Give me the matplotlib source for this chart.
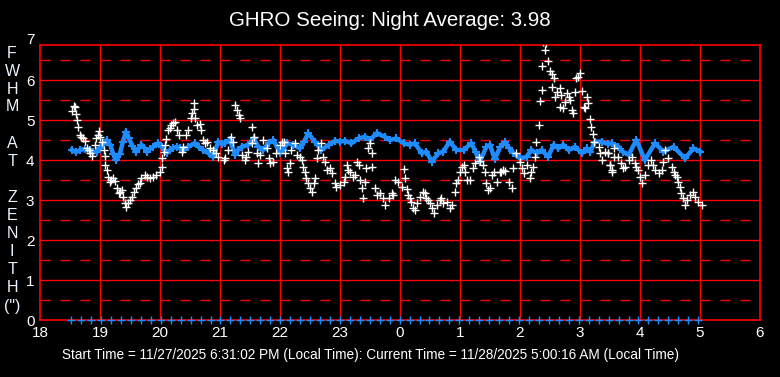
import numpy as np
import matplotlib
matplotlib.use("Agg")
import matplotlib.pyplot as plt

plt.rcParams['font.family'] = ['Liberation Sans', 'DejaVu Sans']
plt.rcParams['lines.scale_dashes'] = False

title = "GHRO Seeing: Night Average: 3.98"
footer = ("Start Time = 11/27/2025 6:31:02 PM (Local Time): "
          "Current Time = 11/28/2025 5:00:16 AM (Local Time)")
ylabel_letters = ["F", "W", "H", "M", "A", "T", "Z", "E", "N", "I", "T", "H", '(")']
ylabel_pos = [53, 72, 90, 107, 144, 161, 197, 215, 233, 251, 269, 287, 306]

x_ticks = list(range(18, 31))
x_tick_labels = ["18", "19", "20", "21", "22", "23", "0", "1", "2", "3", "4", "5", "6"]
y_ticks = [0, 1, 2, 3, 4, 5, 6]

# averaged seeing (blue)
avg_t = [18.53, 18.6, 18.67, 18.75, 18.83, 18.89, 18.95, 19.0, 19.06, 19.11, 19.17, 19.22,
         19.27, 19.33, 19.38, 19.43, 19.48, 19.54, 19.6, 19.65, 19.69, 19.74, 19.78, 19.83,
         19.89, 19.97, 20.03, 20.11, 20.17, 20.22, 20.28, 20.33, 20.39, 20.47, 20.58, 20.65,
         20.72, 20.81, 20.89, 20.97, 21.03, 21.08, 21.17, 21.25, 21.3, 21.36, 21.47, 21.56,
         21.64, 21.72, 21.81, 21.89, 22.0, 22.05, 22.11, 22.22, 22.33, 22.4, 22.47, 22.58,
         22.69, 22.81, 22.92, 23.0, 23.08, 23.19, 23.31, 23.42, 23.5, 23.61, 23.75, 23.83,
         23.94, 24.06, 24.17, 24.25, 24.36, 24.44, 24.53, 24.64, 24.72, 24.83, 24.94, 25.06,
         25.19, 25.26, 25.33, 25.44, 25.5, 25.58, 25.67, 25.75, 25.82, 25.89, 26.0, 26.11,
         26.19, 26.28, 26.36, 26.47, 26.56, 26.64, 26.72, 26.81, 26.92, 27.03, 27.11, 27.17,
         27.25, 27.36, 27.47, 27.53, 27.64, 27.72, 27.81, 27.94, 28.08, 28.25, 28.39, 28.56,
         28.75, 28.89, 29.0]
avg_v = [4.25, 4.2, 4.25, 4.28, 4.24, 4.2, 4.2, 4.3, 4.4, 4.5, 4.38, 4.15,
         4.0, 4.15, 4.45, 4.7, 4.55, 4.35, 4.2, 4.3, 4.38, 4.3, 4.2, 4.28,
         4.33, 4.42, 4.33, 4.17, 4.25, 4.3, 4.33, 4.3, 4.25, 4.33, 4.42, 4.32,
         4.25, 4.17, 4.08, 4.46, 4.4, 4.42, 4.5, 4.13, 4.25, 4.33, 4.38, 4.54,
         4.33, 4.25, 4.42, 4.5, 4.17, 4.25, 4.42, 4.38, 4.29, 4.45, 4.67, 4.46,
         4.25, 4.38, 4.48, 4.46, 4.48, 4.42, 4.54, 4.58, 4.5, 4.67, 4.58, 4.5,
         4.54, 4.42, 4.38, 4.42, 4.17, 4.21, 3.96, 4.17, 4.21, 4.46, 4.25, 4.25,
         4.42, 4.2, 3.96, 4.33, 4.38, 4.02, 4.33, 4.44, 4.3, 4.17, 4.04, 4.08,
         4.25, 4.17, 4.25, 4.08, 4.38, 4.29, 4.38, 4.25, 4.33, 4.17, 4.29, 4.21,
         4.46, 4.46, 4.4, 4.42, 4.33, 4.2, 4.13, 4.5, 4.0, 4.42, 4.21, 4.33,
         4.04, 4.29, 4.21]

# individual measurements (white)
meas_t = [18.57, 18.58, 18.54, 18.6, 18.62, 18.64, 18.66, 18.69, 18.72, 18.75, 18.78, 18.81,
          18.83, 18.86, 18.92, 18.93, 18.96, 18.99, 19.0, 19.03, 19.06, 19.08, 19.08, 19.11,
          19.13, 19.16, 19.19, 19.22, 19.25, 19.28, 19.31, 19.33, 19.36, 19.39, 19.42, 19.44,
          19.47, 19.5, 19.53, 19.56, 19.6, 19.63, 19.67, 19.69, 19.75, 19.78, 19.83, 19.89,
          19.94, 20.0, 20.03, 20.04, 20.06, 20.08, 20.1, 20.14, 20.17, 20.19, 20.22, 20.25,
          20.28, 20.31, 20.36, 20.39, 20.44, 20.47, 20.51, 20.53, 20.56, 20.57, 20.58, 20.61,
          20.67, 20.69, 20.72, 20.75, 20.78, 20.83, 20.89, 20.94, 20.97, 21.06, 21.08, 21.14,
          21.19, 21.22, 21.25, 21.28, 21.31, 21.33, 21.36, 21.42, 21.44, 21.47, 21.53, 21.54,
          21.56, 21.61, 21.64, 21.67, 21.72, 21.78, 21.81, 21.83, 21.89, 21.94, 22.0, 22.03,
          22.06, 22.08, 22.11, 22.14, 22.17, 22.19, 22.25, 22.28, 22.33, 22.36, 22.39, 22.42,
          22.44, 22.47, 22.5, 22.53, 22.56, 22.58, 22.61, 22.64, 22.69, 22.72, 22.75, 22.78,
          22.83, 22.86, 22.92, 22.94, 23.0, 23.06, 23.08, 23.11, 23.14, 23.17, 23.22, 23.25,
          23.28, 23.31, 23.33, 23.36, 23.39, 23.42, 23.44, 23.47, 23.5, 23.53, 23.54, 23.58,
          23.61, 23.67, 23.72, 23.75, 23.81, 23.86, 23.89, 23.92, 23.97, 24.03, 24.07, 24.08,
          24.11, 24.14, 24.17, 24.19, 24.22, 24.25, 24.28, 24.33, 24.39, 24.42, 24.44, 24.47,
          24.5, 24.53, 24.56, 24.61, 24.67, 24.69, 24.72, 24.78, 24.83, 24.86, 24.92, 24.94,
          24.97, 25.0, 25.03, 25.06, 25.08, 25.11, 25.17, 25.22, 25.25, 25.31, 25.33, 25.38,
          25.42, 25.44, 25.47, 25.5, 25.53, 25.56, 25.61, 25.67, 25.69, 25.72, 25.75, 25.81,
          25.86, 25.89, 25.94, 26.0, 26.03, 26.06, 26.11, 26.17, 26.19, 26.22, 26.25, 26.27,
          26.32, 26.34, 26.36, 26.37, 26.42, 26.39, 26.44, 26.46, 26.5, 26.53, 26.57, 26.54,
          26.58, 26.61, 26.66, 26.67, 26.69, 26.72, 26.75, 26.78, 26.81, 26.83, 26.86, 26.89,
          26.92, 26.94, 26.97, 27.0, 27.03, 27.06, 27.08, 27.11, 27.14, 27.17, 27.19, 27.21,
          27.24, 27.31, 27.33, 27.36, 27.42, 27.47, 27.47, 27.5, 27.5, 27.53, 27.53, 27.56,
          27.56, 27.64, 27.69, 27.72, 27.75, 27.81, 27.86, 27.92, 27.94, 27.97, 28.0, 28.03,
          28.08, 28.14, 28.19, 28.22, 28.25, 28.31, 28.36, 28.39, 28.42, 28.47, 28.53, 28.56,
          28.58, 28.61, 28.64, 28.67, 28.68, 28.72, 28.75, 28.78, 28.83, 28.89, 28.92, 28.97,
          29.03]
meas_v = [5.36, 5.33, 5.23, 5.14, 5.0, 4.82, 4.63, 4.58, 4.54, 4.48, 4.29, 4.25,
          4.17, 4.11, 4.38, 4.54, 4.63, 4.73, 4.58, 4.46, 4.25, 4.11, 3.88, 3.75,
          3.58, 3.46, 3.5, 3.54, 3.48, 3.29, 3.17, 3.21, 3.25, 3.08, 2.92, 2.83,
          2.92, 3.0, 3.08, 3.21, 3.29, 3.39, 3.42, 3.54, 3.63, 3.58, 3.54, 3.58,
          3.63, 3.71, 3.83, 4.06, 4.21, 4.38, 4.53, 4.75, 4.79, 4.88, 4.92, 4.94,
          4.75, 4.63, 4.21, 4.33, 4.63, 4.75, 5.04, 5.17, 5.42, 5.28, 5.04, 4.88,
          4.89, 4.75, 4.5, 4.42, 4.46, 4.29, 4.25, 4.17, 4.08, 4.0, 4.04, 4.25,
          4.58, 4.46, 5.38, 5.25, 5.13, 5.06, 4.13, 4.0, 4.08, 4.21, 4.42, 4.82,
          4.58, 4.17, 3.92, 4.13, 4.5, 4.29, 4.04, 3.92, 3.96, 4.17, 4.38, 4.46,
          4.46, 4.17, 3.79, 3.71, 3.92, 4.25, 4.42, 4.13, 4.08, 4.0, 3.83, 3.71,
          3.54, 3.42, 3.29, 3.21, 3.42, 3.54, 4.04, 4.25, 4.42, 4.08, 3.96, 3.75,
          3.79, 3.67, 3.42, 3.33, 3.38, 3.46, 3.58, 3.88, 3.75, 3.71, 3.58, 3.63,
          3.96, 3.88, 3.5, 3.29, 3.04, 3.46, 3.79, 4.29, 4.42, 4.17, 3.83, 3.29,
          3.13, 3.17, 3.04, 2.88, 3.04, 3.17, 3.13, 3.5, 3.46, 3.33, 3.77, 3.54,
          3.28, 3.13, 3.04, 2.96, 2.79, 2.75, 2.92, 3.08, 3.21, 3.17, 3.04, 3.0,
          2.92, 2.79, 2.67, 2.88, 3.0, 3.04, 2.92, 2.96, 2.79, 2.88, 3.19, 3.42,
          3.5, 3.71, 3.83, 3.88, 3.71, 3.5, 3.5, 3.79, 3.92, 4.08, 3.98, 3.88,
          3.71, 3.42, 3.25, 3.29, 3.63, 3.71, 3.46, 3.71, 3.71, 3.75, 3.73, 3.46,
          3.29, 3.79, 4.17, 3.96, 3.79, 3.67, 3.88, 3.54, 3.71, 3.83, 4.08, 4.46,
          4.88, 5.48, 5.75, 6.36, 6.75, 6.96, 6.92, 6.48, 6.23, 6.14, 6.04, 5.82,
          5.58, 5.71, 5.81, 5.33, 5.63, 5.31, 5.46, 5.67, 5.58, 5.5, 5.25, 5.17,
          5.71, 6.04, 6.08, 6.17, 5.73, 5.33, 5.29, 5.57, 5.42, 5.03, 4.83, 4.64,
          4.46, 4.33, 4.17, 4.0, 4.21, 4.17, 4.17, 3.88, 3.88, 3.71, 3.75, 4.29,
          4.08, 4.08, 3.92, 3.79, 3.83, 4.0, 4.08, 3.92, 3.83, 3.75, 3.58, 3.42,
          3.63, 3.88, 4.0, 3.88, 3.75, 3.67, 3.75, 3.96, 4.25, 4.04, 3.83, 3.71,
          3.63, 3.58, 3.46, 3.33, 3.17, 3.04, 2.88, 3.0, 3.13, 3.21, 3.08, 2.96,
          2.88]

# zero markers along the bottom (one per sample interval)
zero_t = np.linspace(18.52, 28.97, 64)
zero_v = np.zeros_like(zero_t)

BLUE = '#1E8CFF'
RED = '#FF0000'

fig = plt.figure(figsize=(7.8, 3.77), dpi=100, facecolor='black')
ax = fig.add_axes([40 / 780, 57 / 377, 720 / 780, 275 / 377])
ax.set_facecolor('black')
ax.set_xlim(18, 30)
ax.set_ylim(0, 6.875)

lw = 1.0
for h in range(19, 30):
    ax.axvline(h, color=RED, lw=lw, zorder=1)
for y in range(1, 7):
    ax.axhline(y, color=RED, lw=lw, zorder=1)
for y in np.arange(0.5, 7, 1.0):
    ax.axhline(y, color=RED, lw=lw, zorder=1, linestyle=(0, (7.2, 7.2)))

for s in ax.spines.values():
    s.set_color(RED)
    s.set_linewidth(1.2)

ax.plot(avg_t, avg_v, color=BLUE, lw=3.2, marker='+', ms=6, mew=1.5, zorder=3,
        solid_joinstyle='round')
ax.plot(zero_t, zero_v, linestyle='none', color=BLUE, marker='+', ms=5.5, mew=1.0,
        zorder=3, clip_on=False)
ax.plot(meas_t, meas_v, linestyle='none', color='white', marker='+', ms=6, mew=1.0,
        zorder=4)

ax.set_xticks(x_ticks)
ax.set_xticklabels(x_tick_labels)
ax.set_yticks(y_ticks)
ax.set_yticklabels([str(v) for v in y_ticks])
ax.tick_params(length=0, colors='white', labelsize=11)
ax.tick_params(axis='y', pad=4)
ax.tick_params(axis='x', pad=4)
ax.annotate('7', xy=(0, 7), xycoords=('axes fraction', 'data'), xytext=(-4, 0),
            textcoords='offset points', ha='right', va='center', color='white',
            fontsize=11, annotation_clip=False)

fig.text(0.5, 1 - 20 / 377, title, ha='center', va='center', color='white', fontsize=14.8)
fig.text(370 / 780, 1 - 355 / 377, footer, ha='center', va='center', color='white',
         fontsize=9.8)
for letter, ypix in zip(ylabel_letters, ylabel_pos):
    fig.text(12 / 780, 1 - ypix / 377, letter, ha='center', va='center',
             color='#EAF4FF', fontsize=11.5)

fig.savefig('out.png', dpi=100, facecolor='black')
